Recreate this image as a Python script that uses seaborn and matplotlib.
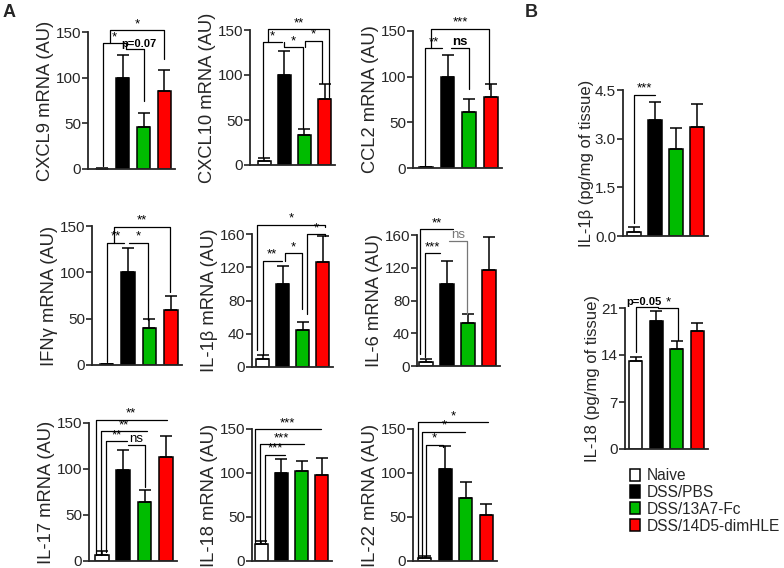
import numpy as np
import pandas as pd
import matplotlib
matplotlib.use("Agg")
import matplotlib.pyplot as plt
from matplotlib.patches import Patch
import seaborn as sns

sns.set_style("ticks")
plt.rcParams["font.family"] = ["Liberation Sans", "DejaVu Sans"]

groups = ["Naive", "DSS/PBS", "DSS/13A7-Fc", "DSS/14D5-dimHLE"]
colors = ["white", "black", "#00bb00", "#ff0000"]

# mean / SEM
cxcl9_mean = [0.5, 100, 46, 85]
cxcl9_sem = [0.3, 25, 15, 23]
cxcl10_mean = [5, 100, 33, 73]
cxcl10_sem = [3, 27, 7, 17]
ccl2_mean = [1, 100, 61, 78]
ccl2_sem = [0.3, 24, 14, 14]
ifng_mean = [1, 100, 40, 59]
ifng_sem = [0.5, 26, 10, 16]
il1b_mean = [10, 100, 44, 126]
il1b_sem = [4, 22, 10, 31]
il6_mean = [5, 100, 53, 117]
il6_sem = [3, 28, 11, 40]
il17_mean = [7, 99, 64, 113]
il17_sem = [4, 22, 13, 23]
il18_mean = [19, 100, 102, 98]
il18_sem = [4, 16, 12, 19]
il22_mean = [3, 104, 72, 52]
il22_sem = [2.5, 27, 18, 13]
il1b_prot_mean = [0.12, 3.56, 2.68, 3.36]
il1b_prot_sem = [0.15, 0.58, 0.66, 0.70]
il18_prot_mean = [13.05, 19.0, 14.95, 17.6]
il18_prot_sem = [0.65, 1.5, 1.15, 1.1]

# significance brackets: x1, x2, top, left foot, right foot, label
cxcl9_sig = [(0.04, 1.16, 138, 3, 131, "*"), (1.16, 2.0, 131, 131, 74, "p=0.07"),
             (0.36, 3.0, 152, 138, 120, "*")]
cxcl10_sig = [(-0.03, 0.88, 136.7, 9, 136.7, "*"), (1.01, 1.91, 131, 136.7, 41, "*"),
              (0.18, 3.23, 150.7, 136.7, 76, "**"), (2.04, 2.87, 138, 131, 91, "*")]
ccl2_sig = [(-0.05, 0.75, 131, 2, 131, "**"), (1.14, 1.97, 131, 131, 86, "ns"),
            (0.24, 2.94, 152.5, 131, 86, "***")]
ifng_sig = [(0.03, 0.82, 132, 3.6, 132, "**"), (1.06, 1.93, 132, 132, 49, "*"),
            (0.35, 2.95, 149, 132, 79, "**")]
il1b_sig = [(0, 0.97, 128, 14, 128, "**"), (1.1, 1.97, 137, 128, 70, "*"),
            (2.22, 3.1, 160, 64, 157, "*"), (-0.28, 3.1, 171, 20, 169, "*")]
il6_sig = [(-0.3, 1.29, 167, 15, 167, "**"), (-0.03, 0.65, 138, 11, 138, "***"),
           (1.08, 1.95, 153, 153, 64, "ns")]
il17_sig = [(-0.3, 3.03, 153.6, 6, 153.6, "**"), (-0.06, 2.09, 141, 6, 141, "**"),
            (0.2, 1.15, 130, 10, 130, "**"), (1.22, 2.0, 126, 126, 80, "ns")]
il18_sig = [(-0.33, 2.95, 150, 22, 150, "***"), (-0.08, 2.12, 133, 22, 133, "***"),
            (0.2, 1.2, 121, 22, 121, "***")]
il22_sig = [(-0.33, 3.08, 157.6, 3, 157.6, "*"), (-0.11, 1.97, 147, 3, 147, "*"),
            (0.05, 0.87, 132, 5, 130, "*")]
il1b_prot_sig = [(0, 1.0, 4.35, 0.41, 4.35, "***")]
il18_prot_sig = [(0, 1.09, 21.1, 14.4, 21.1, "p=0.05"), (1.09, 2.06, 21.0, 21.0, 16.3, "*")]

ticks150 = [0, 50, 100, 150]
ticks160 = [0, 40, 80, 120, 160]

W, H = 784, 568
fig = plt.figure(figsize=(W / 100, H / 100), dpi=100)

# ylabel, mean, sem, sig, yticks, tick labels, (x0, x1, ytop, ybot) in px, xlim left
panels = [
    ("CXCL9 mRNA (AU)", cxcl9_mean, cxcl9_sem, cxcl9_sig, ticks150, None, (88, 175, 32, 169), -0.68),
    ("CXCL10 mRNA (AU)", cxcl10_mean, cxcl10_sem, cxcl10_sig, ticks150, None, (250, 335, 30, 165), -0.70),
    ("CCL2 mRNA (AU)", ccl2_mean, ccl2_sem, ccl2_sig, ticks150, None, (413, 502, 31, 168), -0.60),
    ("IFNγ mRNA (AU)", ifng_mean, ifng_sem, ifng_sig, ticks150, None, (92, 182, 226, 365), -0.68),
    ("IL-1β mRNA (AU)", il1b_mean, il1b_sem, il1b_sig, ticks160, None, (252, 333, 234, 367), -0.53),
    ("IL-6 mRNA (AU)", il6_mean, il6_sem, il6_sig, ticks160, None, (417, 500, 235, 366), -0.43),
    ("IL-17 mRNA (AU)", il17_mean, il17_sem, il17_sig, ticks150, None, (89, 177, 423, 561), -0.61),
    ("IL-18 mRNA (AU)", il18_mean, il18_sem, il18_sig, ticks150, None, (252, 332, 429, 561), -0.47),
    ("IL-22 mRNA (AU)", il22_mean, il22_sem, il22_sig, ticks150, None, (413, 497, 429, 561), -0.57),
    ("IL-1β (pg/mg of tissue)", il1b_prot_mean, il1b_prot_sem, il1b_prot_sig,
     [0, 1.5, 3.0, 4.5], ["0.0", "1.5", "3.0", "4.5"], (623, 708, 90, 236), -0.51),
    ("IL-18 (pg/mg of tissue)", il18_prot_mean, il18_prot_sem, il18_prot_sig,
     [0, 7, 14, 21], None, (625, 708, 308, 449), -0.53),
]

palette = dict(zip(groups, colors))

for ylabel, mean, sem, sig, yt, ytl, (x0, x1, yt0, yb0), xl in panels:
    ax = fig.add_axes([x0 / W, 1 - yb0 / H, (x1 - x0) / W, (yb0 - yt0) / H])
    df = pd.DataFrame({"group": groups, "value": mean})
    sns.barplot(data=df, x="group", y="value", hue="group", order=groups, palette=palette,
                width=0.64, dodge=False, saturation=1, edgecolor="black", linewidth=1.1,
                errorbar=None, legend=False, ax=ax)
    ax.errorbar(np.arange(4), mean, yerr=[np.zeros(4), sem], fmt="none", ecolor="black",
                elinewidth=1.1, capsize=4, capthick=1.1, zorder=1)
    ax.set_xlim(xl, 3.52)
    ax.set_ylim(0, yt[-1])
    ax.set_yticks(yt)
    if ytl:
        ax.set_yticklabels(ytl)
    ax.set_xticks([])
    ax.set_xlabel("")
    fs = 12 if "tissue" in ylabel else 13.2
    ax.set_ylabel(ylabel, fontsize=fs, labelpad=1)
    ax.tick_params(axis="y", labelsize=11, length=4, width=1.2, pad=1, direction="out")
    for s in ["left", "bottom"]:
        ax.spines[s].set_linewidth(1.3)
    sns.despine(ax=ax)

    for bx1, bx2, top, f1, f2, lab in sig:
        col = "#777777" if (lab == "ns" and ylabel.startswith("IL-6")) else "black"
        ax.plot([bx1, bx1, bx2, bx2], [f1, top, top, f2], color=col, lw=0.9, clip_on=False)
        lx = (bx1 + bx2) / 2
        bold = lab.startswith("p=") or (lab == "ns" and ylabel.startswith("CCL2"))
        if lab == "p=0.07":
            lx = 1.8
        if lab == "p=0.05":
            lx = 0.4
        fsz = 8 if lab.startswith("p=") else 9.5
        ax.text(lx, top, lab, ha="center", va="bottom", fontsize=fsz, color=col,
                fontweight="bold" if bold else "normal", clip_on=False)

fig.text(3 / W, 1 - 4 / H, "A", fontsize=13, fontweight="bold", va="top", ha="left")
fig.text(525 / W, 1 - 4 / H, "B", fontsize=13, fontweight="bold", va="top", ha="left")

handles = [Patch(facecolor=c, edgecolor="black", linewidth=1.1) for c in colors]
fig.legend(handles, groups, loc="upper left", bbox_to_anchor=(630 / W, 1 - 468 / H),
           frameon=False, fontsize=11.2, handlelength=0.67, handleheight=0.82,
           handletextpad=0.4, labelspacing=0.12, borderpad=0, borderaxespad=0)

fig.savefig("out.png", dpi=100)
